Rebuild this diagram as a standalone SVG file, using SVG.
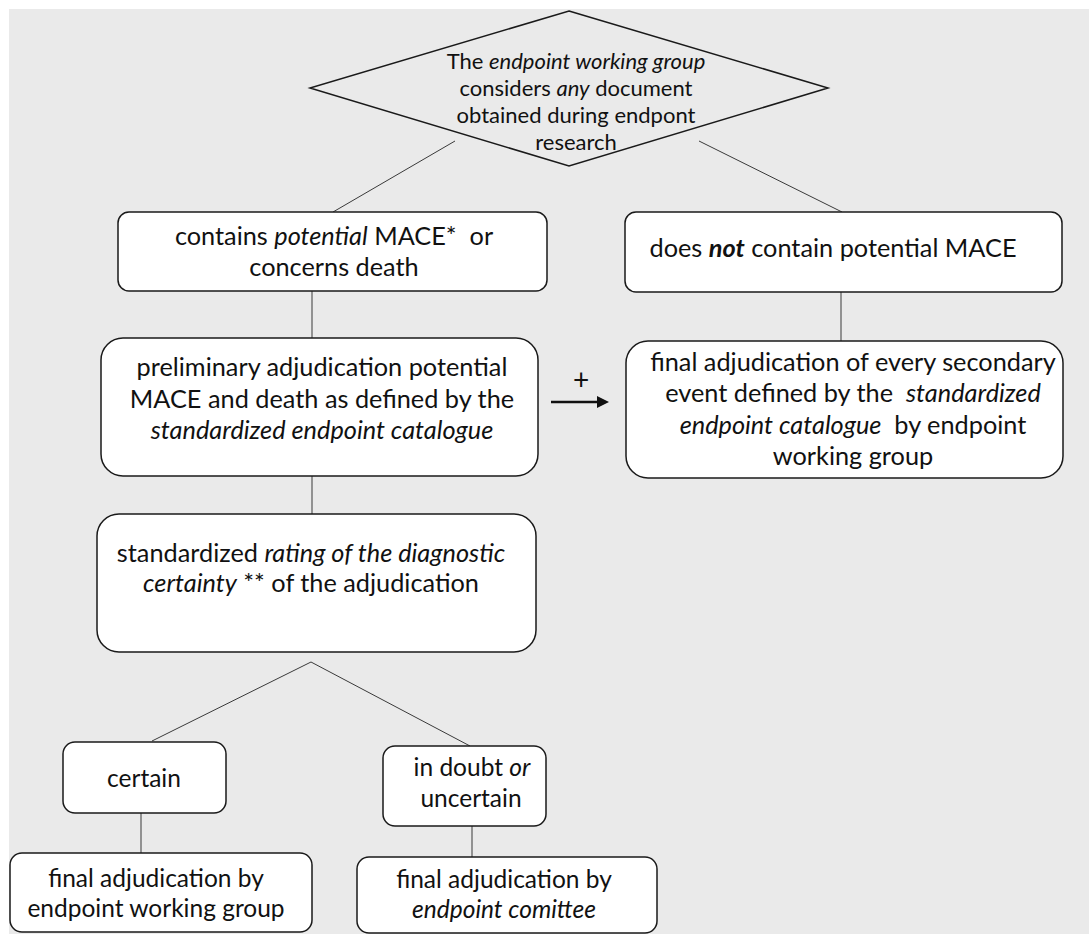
<svg xmlns="http://www.w3.org/2000/svg" width="1089" height="934" viewBox="0 0 1089 934">
<defs>
<style>
.bg{fill:#eaeaea}
.box{fill:#ffffff;stroke:#1a1a1a;stroke-width:1.5}
.dia{fill:none;stroke:#1a1a1a;stroke-width:1.5}
.con{stroke:#3a3a3a;stroke-width:1;fill:none}
text{font-family:Lato,"Liberation Sans",sans-serif;fill:#111111;text-anchor:middle}
.t21{font-size:22px}
.t24{font-size:25.3px}
.t27{font-size:24.5px}
.i{font-style:italic}
.b{font-weight:bold}
</style>
</defs>
<rect class="bg" x="9" y="9" width="1080" height="925"/>
<g id="connectors">
<line class="con" x1="455" y1="141" x2="333" y2="212"/>
<line class="con" x1="699" y1="141" x2="842" y2="212"/>
<line class="con" x1="312" y1="291" x2="312" y2="338"/>
<line class="con" x1="841" y1="292" x2="841" y2="341"/>
<line class="con" x1="312" y1="476" x2="312" y2="514"/>
<polyline class="con" points="152,741 311,662 470,746"/>
<line class="con" x1="141" y1="813" x2="141" y2="853"/>
<line class="con" x1="472" y1="826" x2="472" y2="857"/>
<g id="plus-arrow">
<line x1="551" y1="402" x2="600" y2="402" stroke="#111" stroke-width="2.5"/>
<polygon points="597,396 609,402 597,408" fill="#111"/>
<text x="581" y="390" style="font-size:28px">+</text>
</g>
</g>
<g id="n-start">
<polygon class="dia" points="569,11 828,88 569,166 310,88"/>
<text class="t21" x="576" y="69">The <tspan class="i">endpoint working group</tspan></text>
<text class="t21" x="576" y="96">considers <tspan class="i">any</tspan> document</text>
<text class="t21" x="576" y="123">obtained during endpont</text>
<text class="t21" x="576" y="150">research</text>
</g>
<g id="n-contains">
<rect class="box" x="118" y="212" width="429" height="79" rx="11"/>
<text class="t24" x="334" y="245" xml:space="preserve">contains <tspan class="i">potential</tspan> MACE*  or</text>
<text class="t24" x="334" y="276">concerns death</text>
</g>
<g id="n-notcontain">
<rect class="box" x="625" y="212" width="437" height="80" rx="11"/>
<text class="t24" x="833" y="257">does <tspan class="i b">not</tspan> contain potential MACE</text>
</g>
<g id="n-prelim">
<rect class="box" x="101" y="338" width="437" height="138" rx="22"/>
<text class="t24" x="322" y="376">preliminary adjudication potential</text>
<text class="t24" x="322" y="408">MACE and death as defined by the</text>
<text class="t24 i" x="322" y="439">standardized endpoint catalogue</text>
</g>
<g id="n-final-secondary">
<rect class="box" x="626" y="341" width="437" height="137" rx="22"/>
<text class="t24" x="853" y="371">final adjudication of every secondary</text>
<text class="t24" x="853" y="402" xml:space="preserve">event defined by the  <tspan class="i">standardized</tspan></text>
<text class="t24" x="853" y="434" xml:space="preserve"><tspan class="i">endpoint catalogue</tspan>  by endpoint</text>
<text class="t24" x="853" y="465">working group</text>
</g>
<g id="n-rating">
<rect class="box" x="97" y="514" width="439" height="138" rx="22"/>
<text class="t24" x="311" y="562">standardized <tspan class="i">rating of the diagnostic</tspan></text>
<text class="t24" x="311" y="592"><tspan class="i">certainty</tspan> ** of the adjudication</text>
</g>
<g id="n-certain">
<rect class="box" x="63" y="742" width="163" height="71" rx="12"/>
<text class="t27" x="144" y="787">certain</text>
</g>
<g id="n-doubt">
<rect class="box" x="383" y="746" width="163" height="80" rx="12"/>
<text class="t27" x="472" y="776">in doubt <tspan class="i">or</tspan></text>
<text class="t27" x="471" y="807">uncertain</text>
</g>
<g id="n-final-wg">
<rect class="box" x="10" y="853" width="302" height="79" rx="12"/>
<text class="t27" x="156" y="887">final adjudication by</text>
<text class="t27" x="156" y="917">endpoint working group</text>
</g>
<g id="n-final-committee">
<rect class="box" x="357" y="857" width="300" height="76" rx="12"/>
<text class="t27" x="504" y="888">final adjudication by</text>
<text class="t27 i" x="504" y="918">endpoint comittee</text>
</g>
</svg>
